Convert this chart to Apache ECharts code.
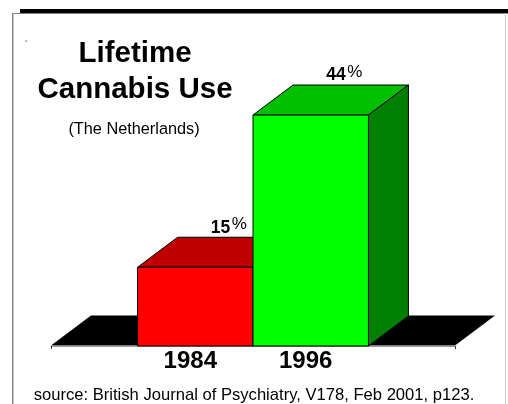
<!DOCTYPE html>
<html>
<head>
<meta charset="utf-8">
<script src="https://cdn.jsdelivr.net/npm/echarts@6/dist/echarts.min.js"></script>
<style>
html,body{margin:0;padding:0;background:#fff;}
#chart{width:508px;height:404px;}
</style>
</head>
<body>
<div id="chart"></div>
<script>
// ---- data ----
const categories = ['1984', '1996'];
const values = [15, 44];
const valueSuffix = '%';
const titleLines = ['Lifetime', 'Cannabis Use'];
const subtitle = '(The Netherlands)';
const sourceNote = 'source: British Journal of Psychiatry, V178, Feb 2001, p123.';

// ---- layout / style ----
const FONT = '"Liberation Sans", Arial, sans-serif';
const X_MAX = 3.5;          // floor extent in bar-width units
const FIRST_BAR_CENTER = 1.25;
const DEPTH_X = 40, DEPTH_Y = 30;
const palette = [
  { front: '#ff0000', top: '#bf0000', side: '#800000' },
  { front: '#00ff00', top: '#00c000', side: '#008000' }
];

const chart = echarts.init(document.getElementById('chart'), null, { renderer: 'canvas' });

function floorItem(params, api) {
  const a = api.coord([0, 0]);
  const b = api.coord([X_MAX, 0]);
  const y = a[1] - 0.5;
  return {
    type: 'polygon',
    shape: { points: [[a[0], y], [b[0], y], [b[0] + DEPTH_X, y - DEPTH_Y], [a[0] + DEPTH_X, y - DEPTH_Y]] },
    style: { fill: '#000' },
    silent: true
  };
}

function barItem(params, api) {
  const i = params.dataIndex;
  const xc = api.value(0);
  const v = api.value(1);
  const l = api.coord([xc - 0.5, v]);
  const r = api.coord([xc + 0.5, 0]);
  const c = api.coord([xc, 0]);
  const x0 = l[0], x1 = r[0], yt = l[1], y0 = r[1];
  const col = palette[i];
  const stroke = { stroke: '#000', lineWidth: 1 };
  return {
    type: 'group',
    children: [
      { type: 'polygon', shape: { points: [[x0, yt], [x1, yt], [x1 + DEPTH_X, yt - DEPTH_Y], [x0 + DEPTH_X, yt - DEPTH_Y]] },
        style: Object.assign({ fill: col.top }, stroke) },
      { type: 'polygon', shape: { points: [[x1, yt], [x1 + DEPTH_X, yt - DEPTH_Y], [x1 + DEPTH_X, y0 - DEPTH_Y], [x1, y0]] },
        style: Object.assign({ fill: col.side }, stroke) },
      { type: 'rect', shape: { x: x0, y: yt, width: x1 - x0, height: y0 - yt },
        style: Object.assign({ fill: col.front }, stroke) },
      { type: 'text', x: c[0] + 35, y: yt - 39.5,
        style: { text: String(v), fill: '#000', font: 'bold 17.5px ' + FONT, align: 'right', verticalAlign: 'middle' } },
      { type: 'text', x: c[0] + 36.5, y: yt - 43,
        style: { text: valueSuffix, fill: '#000', font: '17px ' + FONT, align: 'left', verticalAlign: 'middle' } },
      { type: 'text', x: c[0] - 5, y: y0 + 15.5,
        style: { text: categories[i], fill: '#000', font: 'bold 24px ' + FONT, align: 'center', verticalAlign: 'middle' } }
    ]
  };
}

const option = {
  backgroundColor: '#fff',
  animation: false,
  grid: { left: 51, right: 53, top: 31, bottom: 58 },
  xAxis: {
    type: 'value', min: 0, max: X_MAX, interval: X_MAX,
    splitLine: { show: false },
    axisLabel: { show: false },
    axisLine: { show: true, lineStyle: { color: '#999', width: 1 } },
    axisTick: { show: true, length: 3, lineStyle: { color: '#333', width: 1 } }
  },
  yAxis: { type: 'value', min: 0, max: 60, show: false },
  graphic: [
    { type: 'rect', shape: { x: 20, y: 9, width: 488, height: 4.5 }, style: { fill: '#000' } },
    { type: 'rect', shape: { x: 12, y: 13, width: 8, height: 1 }, style: { fill: '#888' } },
    { type: 'rect', shape: { x: 12, y: 13, width: 1.5, height: 391 }, style: { fill: '#888' } },
    { type: 'rect', shape: { x: 505, y: 13, width: 1, height: 391 }, style: { fill: '#ccc' } },
    { type: 'rect', shape: { x: 25.5, y: 40.5, width: 1.2, height: 1.2 }, style: { fill: '#444' } },
    { type: 'text', x: 135, y: 72,
      style: { text: titleLines.join('\n'), font: 'bold 29.5px ' + FONT, lineHeight: 36, fill: '#000', align: 'center', verticalAlign: 'middle' } },
    { type: 'text', x: 134, y: 130,
      style: { text: subtitle, font: '16.3px ' + FONT, fill: '#000', align: 'center', verticalAlign: 'middle' } },
    { type: 'text', x: 254, y: 395,
      style: { text: sourceNote, font: '16.6px ' + FONT, fill: '#000', align: 'center', verticalAlign: 'middle' } }
  ],
  series: [
    { type: 'custom', renderItem: floorItem, data: [[0]], z: 1, silent: true },
    { type: 'custom', renderItem: barItem, z: 2, silent: true,
      data: values.map((v, i) => [FIRST_BAR_CENTER + i, v]) }
  ]
};
chart.setOption(option);
</script>
</body>
</html>
